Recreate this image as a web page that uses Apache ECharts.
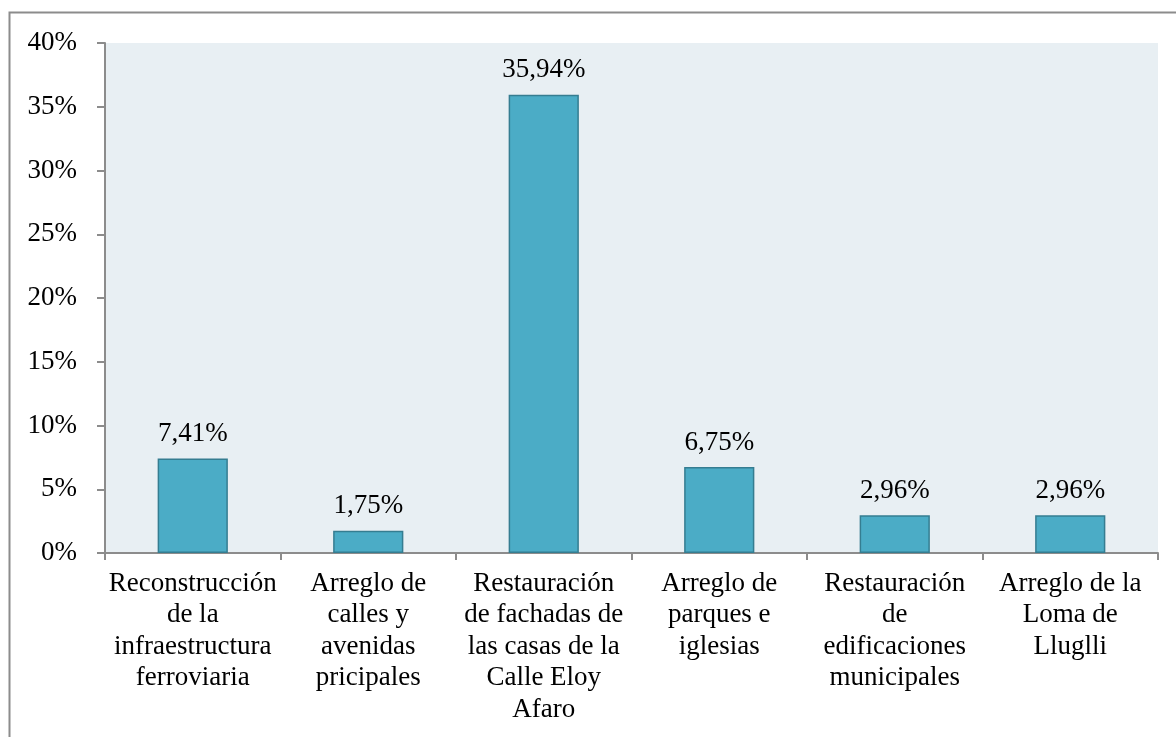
<!DOCTYPE html>
<html>
<head>
<meta charset="utf-8">
<script src="https://cdn.jsdelivr.net/npm/echarts@6/dist/echarts.min.js"></script>
<style>
  html, body { margin: 0; padding: 0; background: #fff; }
  #myChart { width: 1176px; height: 737px; }
</style>
</head>
<body>
<div id="myChart"></div>
<script>
// categorías (eje x)
const categories = [
  "Reconstrucción\nde la\ninfraestructura\nferroviaria",
  "Arreglo de\ncalles y\navenidas\npricipales",
  "Restauración\nde fachadas de\nlas casas de la\nCalle Eloy\nAfaro",
  "Arreglo de\nparques e\niglesias",
  "Restauración\nde\nedificaciones\nmunicipales",
  "Arreglo de la\nLoma de\nLluglli",
];
// porcentajes
const values = [7.41, 1.75, 35.94, 6.75, 2.96, 2.96];

const font = "'Liberation Serif', 'Times New Roman', serif";

const chart = echarts.init(document.getElementById("myChart"));
const option = {
  animation: false,
  graphic: [
    {
      type: "rect",
      shape: { x: 9.5, y: 12.5, width: 1300, height: 800 },
      style: { fill: "none", stroke: "#8c8c8c", lineWidth: 2 },
      z: -10,
    },
  ],
  grid: {
    left: 105,
    right: 18,
    top: 43,
    bottom: 184,
    show: true,
    backgroundColor: "#e8eff3",
    borderWidth: 0,
  },
  xAxis: {
    type: "category",
    data: categories,
    axisLine: { lineStyle: { color: "#8c8c8c", width: 2 } },
    axisTick: { show: true, length: 7, lineStyle: { color: "#8c8c8c", width: 2 } },
    axisLabel: {
      color: "#000",
      fontFamily: font,
      fontSize: 27,
      lineHeight: 31.5,
      margin: 15,
      interval: 0,
    },
  },
  yAxis: {
    type: "value",
    min: 0,
    max: 40,
    interval: 5,
    axisLine: { show: true, lineStyle: { color: "#8c8c8c", width: 2 } },
    axisTick: { show: true, length: 8, lineStyle: { color: "#8c8c8c", width: 2 } },
    splitLine: { show: false },
    axisLabel: {
      color: "#000",
      fontFamily: font,
      fontSize: 27,
      margin: 28,
      formatter: "{value}%",
    },
  },
  series: [
    {
      type: "bar",
      data: values,
      barCategoryGap: "60%",
      itemStyle: { color: "#4bacc6", borderColor: "#357d91", borderWidth: 1.5 },
      label: {
        show: true,
        position: "top",
        distance: 11,
        color: "#000",
        fontFamily: font,
        fontSize: 27,
        formatter: (p) => p.value.toFixed(2).replace(".", ",") + "%",
      },
    },
  ],
};
chart.setOption(option);
</script>
</body>
</html>
